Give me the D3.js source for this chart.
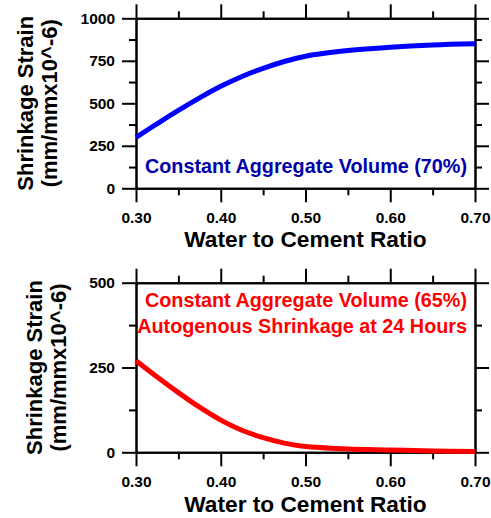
<!DOCTYPE html>
<html>
<head>
<meta charset="utf-8">
<script src="https://cdn.jsdelivr.net/npm/d3@7"></script>
<style>
  html, body { margin: 0; padding: 0; background: #fff; }
  svg { display: block; }
  text { font-family: "Liberation Sans", Arial, sans-serif; font-weight: bold; }
</style>
</head>
<body>
<svg id="chart" width="491" height="518"></svg>
<script>
// Water-to-cement ratio samples along each curve
const wcRatio   = [0.30, 0.325, 0.35, 0.375, 0.40, 0.425, 0.45, 0.475, 0.50, 0.55, 0.60, 0.65, 0.70];
// Drying shrinkage, constant aggregate volume 70% (mm/mm x10^-6)
const shrink70  = [300, 380, 458, 532, 600, 658, 706, 746, 777, 810, 830, 843, 850];
// Autogenous shrinkage at 24 h, constant aggregate volume 65% (mm/mm x10^-6)
const shrink65  = [270, 222, 176, 133, 95, 65, 43, 27, 17, 10, 7, 4, 2];

const xMajor = [0.30, 0.40, 0.50, 0.60, 0.70];
const xMinor = [0.35, 0.45, 0.55, 0.65];
const yMajorTop = [0, 250, 500, 750, 1000];
const yMinorTop = [125, 375, 625, 875];
const yMajorBot = [0, 250, 500];
const yMinorBot = [125, 375];

const yTitle1 = "Shrinkage Strain";
const yTitle2 = "(mm/mmx10^-6)";
const xTitle = "Water to Cement Ratio";
const note70 = ["Constant Aggregate Volume (70%)"];
const note65 = ["Constant Aggregate Volume (65%)", "Autogenous Shrinkage at 24 Hours"];

const svg = d3.select("#chart");

const panels = [
  { top: 18.3, bottom: 188.3, yMax: 1000, yMajor: yMajorTop, yMinor: yMinorTop,
    values: shrink70, color: "#0000ff", noteColor: "#0000a8", notes: note70,
    noteBase: 172.5, titleX1: 33, titleX2: 57, xTitleY: 247 },
  { top: 282.7, bottom: 452.3, yMax: 500, yMajor: yMajorBot, yMinor: yMinorBot,
    values: shrink65, color: "#ff0000", noteColor: "#ff0000", notes: note65,
    noteBase: 307, titleX1: 41.5, titleX2: 65.5, xTitleY: 512 }
];

const left = 136, right = 475;
const majorLen = 14, minorLen = 7;

panels.forEach(p => {
  const x = d3.scaleLinear().domain([0.30, 0.70]).range([left, right]);
  const y = d3.scaleLinear().domain([0, p.yMax]).range([p.bottom, p.top]);
  const g = svg.append("g");

  const styleAxis = sel => {
    sel.selectAll("path.domain").attr("stroke", "#000").attr("stroke-width", 2);
    sel.selectAll(".tick line").attr("stroke", "#000").attr("stroke-width", 2);
    sel.selectAll(".tick text").attr("fill", "#000").style("font-size", "15.5px")
      .style("font-family", "'Liberation Sans', Arial, sans-serif").style("font-weight", "bold");
  };
  const fmtX = d3.format(".2f");

  // Bottom axis with labels
  g.append("g").attr("transform", `translate(0,${p.bottom})`)
    .call(d3.axisBottom(x).tickValues(xMajor).tickSize(majorLen).tickSizeOuter(0).tickPadding(9.5).tickFormat(fmtX))
    .call(styleAxis);
  g.append("g").attr("transform", `translate(0,${p.bottom})`)
    .call(d3.axisBottom(x).tickValues(xMinor).tickSize(minorLen).tickSizeOuter(0).tickFormat(""))
    .call(styleAxis);
  // Top axis, ticks only
  g.append("g").attr("transform", `translate(0,${p.top})`)
    .call(d3.axisTop(x).tickValues(xMajor).tickSize(majorLen).tickSizeOuter(0).tickFormat(""))
    .call(styleAxis);
  g.append("g").attr("transform", `translate(0,${p.top})`)
    .call(d3.axisTop(x).tickValues(xMinor).tickSize(minorLen).tickSizeOuter(0).tickFormat(""))
    .call(styleAxis);
  // Left axis with labels
  g.append("g").attr("transform", `translate(${left},0)`)
    .call(d3.axisLeft(y).tickValues(p.yMajor).tickSize(majorLen).tickSizeOuter(0).tickPadding(7).tickFormat(d3.format("d")))
    .call(styleAxis);
  g.append("g").attr("transform", `translate(${left},0)`)
    .call(d3.axisLeft(y).tickValues(p.yMinor).tickSize(minorLen).tickSizeOuter(0).tickFormat(""))
    .call(styleAxis);
  // Right axis, ticks only
  g.append("g").attr("transform", `translate(${right},0)`)
    .call(d3.axisRight(y).tickValues(p.yMajor).tickSize(majorLen).tickSizeOuter(0).tickFormat(""))
    .call(styleAxis);
  g.append("g").attr("transform", `translate(${right},0)`)
    .call(d3.axisRight(y).tickValues(p.yMinor).tickSize(minorLen).tickSizeOuter(0).tickFormat(""))
    .call(styleAxis);

  // Curve
  const line = d3.line()
    .x((d, i) => x(wcRatio[i]))
    .y(d => y(d))
    .curve(d3.curveCatmullRom.alpha(0.5));
  g.append("path")
    .datum(p.values)
    .attr("d", line)
    .attr("fill", "none")
    .attr("stroke", p.color)
    .attr("stroke-width", 5)
    .attr("stroke-linecap", "butt");

  // Annotation, right-aligned inside the plot
  p.notes.forEach((t, i) => {
    g.append("text")
      .attr("x", 467)
      .attr("y", p.noteBase + i * 26)
      .attr("text-anchor", "end")
      .attr("fill", p.noteColor)
      .style("font-size", "19.8px")
      .text(t);
  });

  // Axis titles
  const cy = (p.top + p.bottom) / 2;
  [[yTitle1, p.titleX1], [yTitle2, p.titleX2]].forEach(([t, bx]) => {
    g.append("text")
      .attr("transform", `translate(${bx},${cy}) rotate(-90)`)
      .attr("text-anchor", "middle")
      .attr("fill", "#000")
      .style("font-size", "22px")
      .text(t);
  });
  g.append("text")
    .attr("x", (left + right) / 2)
    .attr("y", p.xTitleY)
    .attr("text-anchor", "middle")
    .attr("fill", "#000")
    .style("font-size", "22.7px")
    .text(xTitle);
});
</script>
</body>
</html>
